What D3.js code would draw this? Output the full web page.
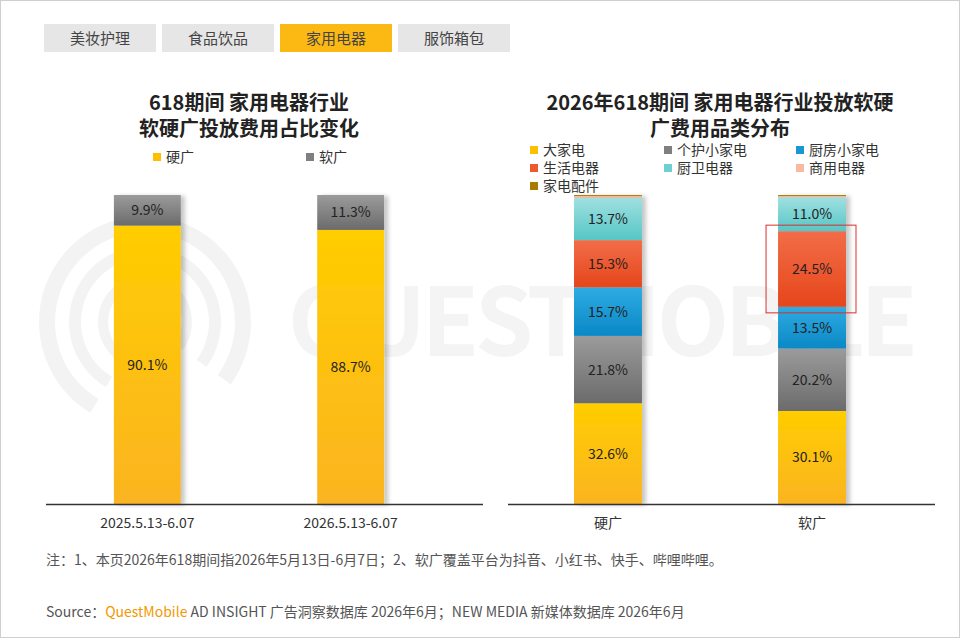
<!DOCTYPE html>
<html>
<head>
<meta charset="utf-8">
<script src="https://cdn.jsdelivr.net/npm/d3@7"></script>
<style>
  body { margin: 0; background: #fff; }
  svg { display: block; font-family: "Noto Sans CJK SC", "Noto Sans", sans-serif; }
</style>
</head>
<body>
<script>
// tabs across the top
const tabs = ['美妆护理', '食品饮品', '家用电器', '服饰箱包'];
const activeTab = '家用电器';

// left chart: hard vs soft ad share
const periods = ['2025.5.13-6.07', '2026.5.13-6.07'];
const hardShare = [90.1, 88.7];
const softShare = [9.9, 11.3];

// right chart: category split by ad type
const adTypes = ['硬广', '软广'];
const categories = ['大家电', '个护小家电', '厨房小家电', '生活电器', '厨卫电器', '商用电器', '家电配件'];
const hardByCat = [32.6, 21.8, 15.7, 15.3, 13.7, 0.6, 0.3];
const softByCat = [30.1, 20.2, 13.5, 24.5, 11.0, 0.4, 0.3];
const labelMin = 5;

const W = 960, H = 638;
const svg = d3.select('body').append('svg')
  .attr('width', W)
  .attr('height', H);

const defs = svg.append('defs');
// vertical gradients per colour: [top, bottom]
const grads = {
  yellow: ['#ffcd00', '#fbb421'],
  gray: ['#9b9b9b', '#6b6b6b'],
  blue: ['#2fabe2', '#0a88c6'],
  red: ['#f26d48', '#e6461b'],
  teal: ['#a0e0e0', '#56c6c6'],
  pink: ['#f9c0ab', '#f4a88e'],
  brown: ['#b08600', '#9a7000']
};
Object.entries(grads).forEach(([k, c]) => {
  let g = defs.append('linearGradient')
    .attr('id', 'g-' + k)
    .attr('x1', 0).attr('y1', 0).attr('x2', 0).attr('y2', 1);
  g.append('stop').attr('offset', '0%').attr('stop-color', c[0]);
  g.append('stop').attr('offset', '100%').attr('stop-color', c[1]);
});
defs.append('filter')
  .attr('id', 'shadow')
  .attr('x', '-20%').attr('y', '-5%').attr('width', '150%').attr('height', '110%')
  .append('feDropShadow')
  .attr('dx', 4).attr('dy', 1)
  .attr('stdDeviation', 2)
  .attr('flood-color', '#000')
  .attr('flood-opacity', 0.22);

// frame
svg.append('rect')
  .attr('x', 0.5).attr('y', 0.5)
  .attr('width', W - 1).attr('height', H - 1)
  .attr('fill', '#fff')
  .attr('stroke', '#cfcfcf');

// watermark
const wm = svg.append('g');
[[98, 16], [70, 12], [42, 10]].forEach(([r, sw]) => {
  wm.append('path')
    .attr('d', d3.arc()({ innerRadius: r - sw / 2, outerRadius: r + sw / 2, startAngle: -2.6, endAngle: 2.2 }))
    .attr('transform', 'translate(145,322)')
    .attr('fill', '#f3f3f3');
});
wm.append('text')
  .attr('x', 288).attr('y', 356)
  .attr('font-size', 94)
  .attr('font-weight', 'bold')
  .attr('fill', '#f4f4f4')
  .attr('textLength', 630)
  .text('QUESTMOBILE');

// tabs
const tabX = d3.scaleBand().domain(tabs).range([44, 510]).paddingInner(0.0508).paddingOuter(0);
const tabG = svg.selectAll('.tab')
  .data(tabs)
  .enter()
  .append('g')
  .classed('tab', true);
tabG.append('rect')
  .attr('x', d => tabX(d))
  .attr('y', 24)
  .attr('width', tabX.bandwidth())
  .attr('height', 28)
  .attr('fill', d => d === activeTab ? '#fdb913' : '#e6e6e6');
tabG.append('text')
  .attr('x', d => tabX(d) + tabX.bandwidth() / 2)
  .attr('y', 43.5)
  .attr('text-anchor', 'middle')
  .attr('font-size', 15)
  .attr('fill', '#444')
  .text(d => d);

const y = d3.scaleLinear().domain([0, 100]).range([504, 195]);

// titles
const title = (cx, lines) => {
  svg.append('text')
    .attr('text-anchor', 'middle')
    .attr('font-size', 20)
    .attr('font-weight', 'bold')
    .attr('fill', '#222')
    .selectAll('tspan')
    .data(lines)
    .enter()
    .append('tspan')
    .attr('x', cx)
    .attr('y', (d, i) => 110 + i * 26)
    .text(d => d);
};
title(249, ['618期间 家用电器行业', '软硬广投放费用占比变化']);
title(720, ['2026年618期间 家用电器行业投放软硬', '广费用品类分布']);

// ---- left chart
const xL = d3.scaleBand().domain(periods).range([46, 452]).paddingInner(0.671).paddingOuter(0.334);
const leftSeries = [
  { name: '硬广', vals: hardShare, color: 'yellow', sw: '#fdc000' },
  { name: '软广', vals: softShare, color: 'gray', sw: '#7f7f7f' }
];
const leftStack = d3.stack().keys([0, 1])(periods.map((p, i) => [hardShare[i], softShare[i]]));
const leftG = svg.append('g');
periods.forEach((p, i) => {
  let bar = leftG.append('g').attr('filter', 'url(#shadow)');
  leftStack.forEach((s, k) => {
    bar.append('rect')
      .attr('x', xL(p))
      .attr('y', y(s[i][1]))
      .attr('width', xL.bandwidth())
      .attr('height', y(s[i][0]) - y(s[i][1]))
      .attr('fill', `url(#g-${leftSeries[k].color})`);
  });
  leftStack.forEach((s, k) => {
    leftG.append('text')
      .attr('x', xL(p) + xL.bandwidth() / 2)
      .attr('y', (y(s[i][0]) + y(s[i][1])) / 2 + 5)
      .attr('text-anchor', 'middle')
      .attr('font-size', 14)
      .attr('fill', '#222')
      .text(leftSeries[k].vals[i].toFixed(1) + '%');
  });
});
svg.append('line')
  .attr('x1', 46).attr('x2', 483)
  .attr('y1', 504.5).attr('y2', 504.5)
  .attr('stroke', '#333').attr('stroke-width', 1.5);
const axL = svg.append('g')
  .attr('transform', 'translate(0,504)')
  .call(d3.axisBottom(xL).tickSize(0).tickPadding(14));
axL.select('.domain').remove();
axL.selectAll('text')
  .attr('font-size', 14)
  .attr('font-weight', 'normal')
  .attr('fill', '#333')
  .attr('font-family', '"Noto Sans CJK SC", sans-serif');

// left legend
const legL = svg.selectAll('.legL')
  .data(leftSeries)
  .enter()
  .append('g')
  .attr('transform', (d, i) => `translate(${153 + i * 153},157)`);
legL.append('rect')
  .attr('x', 0).attr('y', -4)
  .attr('width', 8).attr('height', 8)
  .attr('fill', d => d.sw);
legL.append('text')
  .attr('x', 13).attr('y', 5)
  .attr('font-size', 14)
  .attr('fill', '#333')
  .text(d => d.name);

// ---- right chart
const catColors = ['yellow', 'gray', 'blue', 'red', 'teal', 'pink', 'brown'];
const catSwatch = ['#fdc000', '#7f7f7f', '#1a97d2', '#ec5a2e', '#6ed0d0', '#f8b8a2', '#a87c00'];
const xR = d3.scaleBand().domain(adTypes).range([508, 912]).paddingInner(0.667).paddingOuter(0.3235);
const rightRows = [hardByCat, softByCat];
const rightStack = d3.stack().keys(categories.map((c, i) => i))(rightRows);
const rightG = svg.append('g');
adTypes.forEach((t, i) => {
  let bar = rightG.append('g').attr('filter', 'url(#shadow)');
  rightStack.forEach((s, k) => {
    bar.append('rect')
      .attr('x', xR(t))
      .attr('y', y(s[i][1]))
      .attr('width', xR.bandwidth())
      .attr('height', y(s[i][0]) - y(s[i][1]))
      .attr('fill', `url(#g-${catColors[k]})`);
  });
  rightStack.forEach((s, k) => {
    let v = rightRows[i][k];
    if (v < labelMin) return;
    rightG.append('text')
      .attr('x', xR(t) + xR.bandwidth() / 2)
      .attr('y', (y(s[i][0]) + y(s[i][1])) / 2 + 5)
      .attr('text-anchor', 'middle')
      .attr('font-size', 14)
      .attr('fill', '#222')
      .text(v.toFixed(1) + '%');
  });
});
svg.append('line')
  .attr('x1', 508).attr('x2', 935)
  .attr('y1', 504.5).attr('y2', 504.5)
  .attr('stroke', '#333').attr('stroke-width', 1.5);
const axR = svg.append('g')
  .attr('transform', 'translate(0,504)')
  .call(d3.axisBottom(xR).tickSize(0).tickPadding(14));
axR.select('.domain').remove();
axR.selectAll('text')
  .attr('font-size', 14)
  .attr('font-weight', 'normal')
  .attr('fill', '#333')
  .attr('font-family', '"Noto Sans CJK SC", sans-serif');

// highlight box on 生活电器 in 软广
const hl = rightStack[3][1];
svg.append('rect')
  .attr('x', xR('软广') - 12)
  .attr('y', y(hl[1]) - 6)
  .attr('width', xR.bandwidth() + 22)
  .attr('height', y(hl[0]) - y(hl[1]) + 12)
  .attr('fill', 'none')
  .attr('stroke', '#d9302c')
  .attr('stroke-width', 1);

// right legend, 3 columns
const colX = [530, 664, 796];
const legR = svg.selectAll('.legR')
  .data(categories)
  .enter()
  .append('g')
  .attr('transform', (d, i) => `translate(${colX[i % 3]},${150 + Math.floor(i / 3) * 18})`);
legR.append('rect')
  .attr('x', 0).attr('y', -4)
  .attr('width', 8).attr('height', 8)
  .attr('fill', (d, i) => catSwatch[i]);
legR.append('text')
  .attr('x', 13).attr('y', 5)
  .attr('font-size', 14)
  .attr('fill', '#333')
  .text(d => d);

// footer
svg.append('text')
  .attr('x', 46).attr('y', 565)
  .attr('font-size', 14)
  .attr('fill', '#555')
  .text('注：1、本页2026年618期间指2026年5月13日-6月7日；2、软广覆盖平台为抖音、小红书、快手、哔哩哔哩。');
const src = svg.append('text')
  .attr('x', 46).attr('y', 617)
  .attr('font-size', 14)
  .attr('fill', '#555');
src.append('tspan').text('Source：');
src.append('tspan').attr('fill', '#f39800').text('QuestMobile');
src.append('tspan').text(' AD INSIGHT 广告洞察数据库 2026年6月；NEW MEDIA 新媒体数据库 2026年6月');
</script>
</body>
</html>
